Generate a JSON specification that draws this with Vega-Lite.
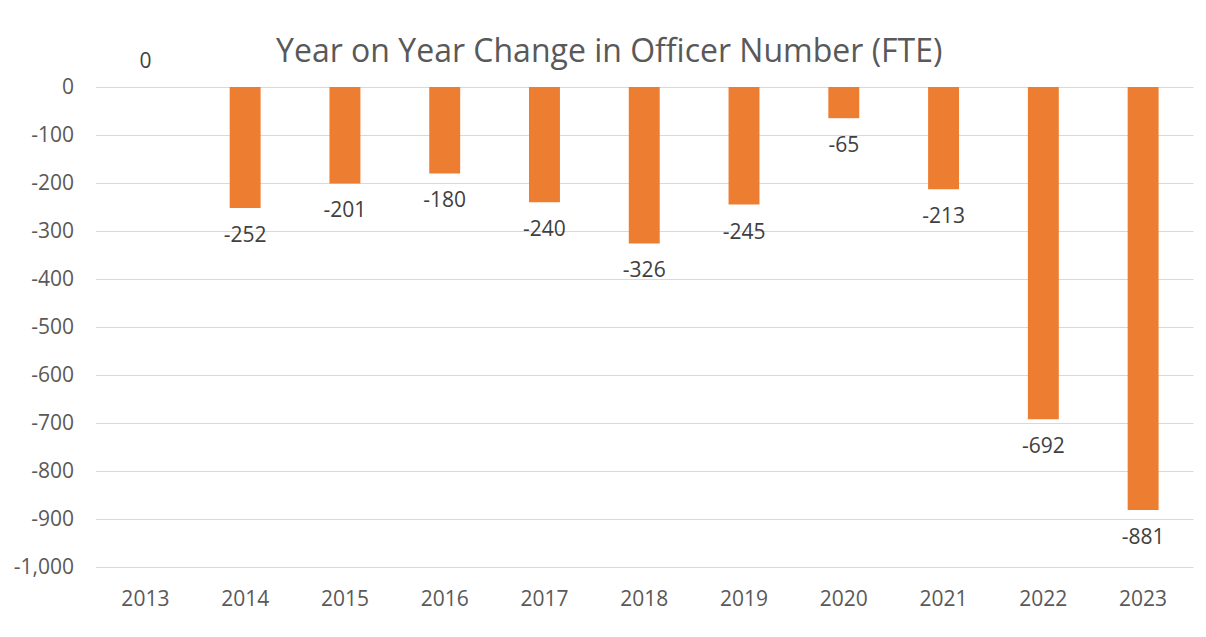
{
  "$schema": "https://vega.github.io/schema/vega-lite/v6.json",
  "width": 1097.5,
  "height": 480,
  "autosize": "none",
  "padding": {"left": 95.5, "top": 87, "right": 13, "bottom": 70},
  "background": "white",
  "title": {
    "text": "Year on Year Change in Officer Number (FTE)",
    "font": "Open Sans",
    "fontSize": 32,
    "fontWeight": "normal",
    "color": "#595959",
    "anchor": "middle",
    "baseline": "alphabetic",
    "offset": -43,
    "dx": -35
  },
  "config": {
    "view": {"stroke": null},
    "locale": {"number": {"decimal": ".", "thousands": ",", "grouping": [3], "currency": ["$", ""], "minus": "-"}},
    "axis": {"labelFont": "Open Sans", "labelFontSize": 21, "labelColor": "#595959"}
  },
  "data": {
    "values": [
      {"year": "2013", "change": 0},
      {"year": "2014", "change": -252},
      {"year": "2015", "change": -201},
      {"year": "2016", "change": -180},
      {"year": "2017", "change": -240},
      {"year": "2018", "change": -326},
      {"year": "2019", "change": -245},
      {"year": "2020", "change": -65},
      {"year": "2021", "change": -213},
      {"year": "2022", "change": -692},
      {"year": "2023", "change": -881}
    ]
  },
  "encoding": {
    "x": {
      "field": "year",
      "type": "ordinal",
      "scale": {"paddingInner": 0.69, "paddingOuter": 0.345},
      "axis": {"title": null, "domain": false, "ticks": false, "labelAngle": 0, "labelPadding": 21, "grid": false}
    },
    "y": {
      "field": "change",
      "type": "quantitative",
      "scale": {"domain": [-1000, 0], "nice": false},
      "axis": {
        "title": null,
        "domain": false,
        "ticks": false,
        "labelPadding": 22,
        "values": [0, -100, -200, -300, -400, -500, -600, -700, -800, -900, -1000],
        "format": ",.0f",
        "grid": true,
        "gridColor": "#d9d9d9",
        "gridWidth": 1.2
      }
    }
  },
  "layer": [
    {"mark": {"type": "bar", "color": "#ED7D31"}},
    {
      "transform": [{"filter": "datum.change < 0"}],
      "mark": {"type": "text", "font": "Open Sans", "fontSize": 21, "color": "#404040", "baseline": "top", "dy": 17},
      "encoding": {"text": {"field": "change", "type": "quantitative", "format": ",.0f"}}
    },
    {
      "transform": [{"filter": "datum.change >= 0"}],
      "mark": {"type": "text", "font": "Open Sans", "fontSize": 21, "color": "#404040", "baseline": "bottom", "dy": -15},
      "encoding": {"text": {"field": "change", "type": "quantitative", "format": ",.0f"}}
    }
  ]
}
